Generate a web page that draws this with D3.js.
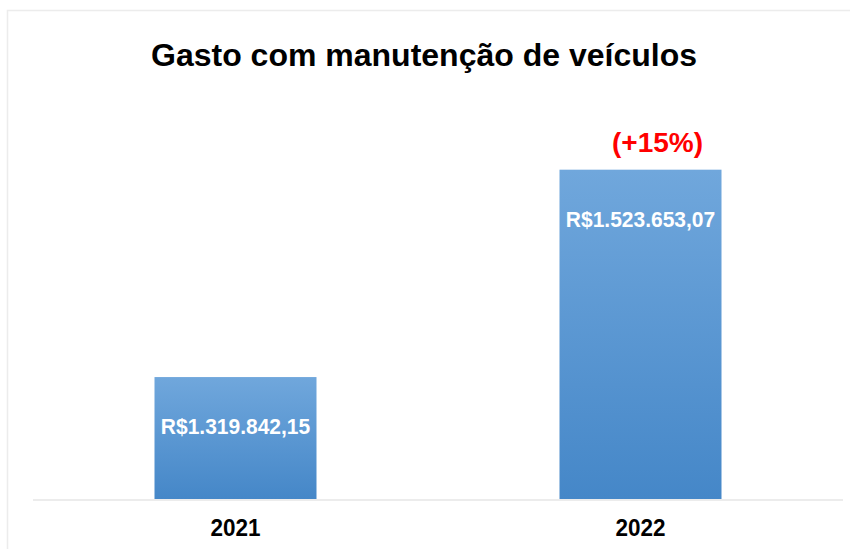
<!DOCTYPE html>
<html>
<head>
    <script src="https://d3js.org/d3.v7.min.js"></script>
    <title>Gasto com manutenção de veículos</title>
    <style>
        body { margin: 0; background: #fff; }
        text { font-family: "Liberation Sans", Arial, sans-serif; font-weight: bold; }
    </style>
</head>
<body>
    <svg id="chart" width="850" height="549"></svg>
    <script>
        // data
        const years = ["2021", "2022"];
        const values = [1319842.15, 1523653.07];
        const valueLabels = ["R$1.319.842,15", "R$1.523.653,07"];
        const changeLabel = "(+15%)";
        const title = "Gasto com manutenção de veículos";

        const svg = d3.select("svg#chart");

        // outer frame (light grey)
        svg.append("rect")
            .attr("x", 7.5).attr("y", 10.5)
            .attr("width", 900).attr("height", 600)
            .attr("fill", "none")
            .attr("stroke", "#ececec")
            .attr("stroke-width", 1.5);

        // gradient for bars
        const grad = svg.append("defs").append("linearGradient")
            .attr("id", "barGrad")
            .attr("x1", 0).attr("y1", 0).attr("x2", 0).attr("y2", 1);
        grad.append("stop").attr("offset", "0%").attr("stop-color", "#70a7dc");
        grad.append("stop").attr("offset", "100%").attr("stop-color", "#4587c8");

        const x = d3.scaleBand().domain(years).range([33, 843])
            .paddingInner(0.6).paddingOuter(0.3);
        const y = d3.scaleLinear().domain([1200000, 1600000]).range([499, 92]);

        // title
        svg.append("text")
            .attr("x", 424).attr("y", 66)
            .attr("text-anchor", "middle")
            .attr("font-size", "32px")
            .attr("fill", "#000")
            .text(title);

        // bars
        svg.selectAll("rect.bar")
            .data(values)
            .join("rect")
            .attr("class", "bar")
            .attr("x", (d, i) => x(years[i]))
            .attr("y", d => y(d))
            .attr("width", x.bandwidth())
            .attr("height", d => y.range()[0] - y(d))
            .attr("fill", "url(#barGrad)");

        // baseline
        svg.append("line")
            .attr("x1", 33).attr("x2", 843)
            .attr("y1", 500).attr("y2", 500)
            .attr("stroke", "#ececec")
            .attr("stroke-width", 2);

        // value labels inside bars
        svg.selectAll("text.val")
            .data(values)
            .join("text")
            .attr("class", "val")
            .attr("text-anchor", "middle")
            .attr("font-size", "21px")
            .attr("fill", "#fff")
            .attr("transform", (d, i) => `translate(${x(years[i]) + x.bandwidth() / 2},${y(d) + 57}) scale(1,1.04)`)
            .text((d, i) => valueLabels[i]);

        // change label above the 2022 bar
        svg.append("text")
            .attr("x", x("2022") + x.bandwidth() / 2 + 17)
            .attr("y", y(values[1]) - 18)
            .attr("text-anchor", "middle")
            .attr("font-size", "28px")
            .attr("fill", "#ff0000")
            .text(changeLabel);

        // x axis labels
        svg.selectAll("text.year")
            .data(years)
            .join("text")
            .attr("class", "year")
            .attr("text-anchor", "middle")
            .attr("font-size", "22.5px")
            .attr("fill", "#000")
            .attr("transform", d => `translate(${x(d) + x.bandwidth() / 2},536) scale(1,1.07)`)
            .text(d => d);
    </script>
</body>
</html>
